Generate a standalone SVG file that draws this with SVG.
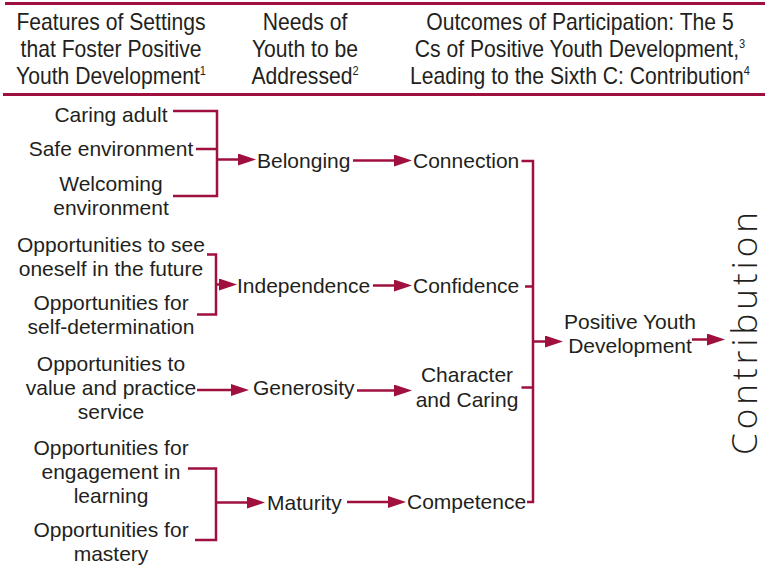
<svg xmlns="http://www.w3.org/2000/svg" width="765" height="571" viewBox="0 0 765 571">
<defs>
<marker id="ah" markerWidth="18" markerHeight="12" refX="8" refY="6" orient="auto" markerUnits="userSpaceOnUse"><path d="M0,0 L18,6 L0,12 z" fill="#A0103E"/></marker>
<style>
.h{font-family:"Liberation Sans",Arial,sans-serif;font-size:23px;fill:#231F20;text-anchor:middle}
.t{font-family:"Liberation Sans",Arial,sans-serif;font-size:21px;fill:#231F20}
.m{text-anchor:middle}
.sup{font-size:12px}
.rule{stroke:#A0103E;stroke-width:3;fill:none}
.c{stroke:#A0103E;stroke-width:2.5;fill:none}
.a{stroke:#A0103E;stroke-width:2.5;fill:none;marker-end:url(#ah)}
.big{font-family:"Open Sans","Liberation Sans",sans-serif;font-weight:300;font-size:35px;fill:#231F20;text-anchor:middle}
</style>
</defs>
<rect width="765" height="571" fill="#fff"/>
<g id="header">
<path class="rule" d="M5,3.5 H765"/>
<path class="rule" d="M3,94.5 H765"/>
<g transform="translate(111,0) scale(0.92,1)">
<text class="h" x="0" y="30">Features of Settings</text>
<text class="h" x="0" y="57">that Foster Positive</text>
<text class="h" x="0" y="84">Youth Development<tspan class="sup" dy="-9">1</tspan></text>
</g>
<g transform="translate(305,0) scale(0.92,1)">
<text class="h" x="0" y="30">Needs of</text>
<text class="h" x="0" y="57">Youth to be</text>
<text class="h" x="0" y="84">Addressed<tspan class="sup" dy="-9">2</tspan></text>
</g>
<g transform="translate(580,0) scale(0.92,1)">
<text class="h" x="0" y="30">Outcomes of Participation: The 5</text>
<text class="h" x="0" y="57">Cs of Positive Youth Development,<tspan class="sup" dy="-9">3</tspan></text>
<text class="h" x="0" y="84">Leading to the Sixth C: Contribution<tspan class="sup" dy="-9">4</tspan></text>
</g>
</g>
<g id="caring-adult"><text class="t m" x="111" y="122">Caring adult</text></g>
<g id="safe-environment"><text class="t m" x="111" y="156">Safe environment</text></g>
<g id="welcoming-environment"><text class="t m" x="111" y="191">Welcoming</text><text class="t m" x="111" y="215">environment</text></g>
<g id="see-future"><text class="t m" x="111" y="252">Opportunities to see</text><text class="t m" x="111" y="276">oneself in the future</text></g>
<g id="self-determination"><text class="t m" x="111" y="310">Opportunities for</text><text class="t m" x="111" y="334">self-determination</text></g>
<g id="service"><text class="t m" x="111" y="371">Opportunities to</text><text class="t m" x="111" y="395">value and practice</text><text class="t m" x="111" y="419">service</text></g>
<g id="engagement"><text class="t m" x="111" y="455">Opportunities for</text><text class="t m" x="111" y="479">engagement in</text><text class="t m" x="111" y="503">learning</text></g>
<g id="mastery"><text class="t m" x="111" y="537">Opportunities for</text><text class="t m" x="111" y="561">mastery</text></g>
<g id="belonging"><text class="t" x="257" y="168">Belonging</text></g>
<g id="independence"><text class="t" x="237" y="293">Independence</text></g>
<g id="generosity"><text class="t" x="253" y="395">Generosity</text></g>
<g id="maturity"><text class="t" x="267" y="510">Maturity</text></g>
<g id="connection"><text class="t" x="413" y="168">Connection</text></g>
<g id="confidence"><text class="t" x="413" y="293">Confidence</text></g>
<g id="character"><text class="t m" x="467" y="382">Character</text><text class="t m" x="467" y="407">and Caring</text></g>
<g id="competence"><text class="t" x="407" y="509">Competence</text></g>
<g id="pyd"><text class="t m" x="630" y="329">Positive Youth</text><text class="t m" x="630" y="353">Development</text></g>
<g id="contribution"><text class="big" transform="translate(757,333.5) rotate(-90)" x="0" y="0" textLength="243" lengthAdjust="spacing">Contribution</text></g>
<g id="connectors">
<path class="c" d="M173,111 H217 V196 H173 M196,149 H217"/>
<path class="a" d="M217,159.5 H246"/>
<path class="c" d="M207,254.5 H216 V314.5 H197"/>
<path class="a" d="M216,284.5 H227"/>
<path class="a" d="M197,390 H239"/>
<path class="c" d="M188,468.5 H216 V540 H195"/>
<path class="a" d="M216,502.5 H255"/>
<path class="a" d="M353,160.5 H402"/>
<path class="a" d="M373,285.5 H402"/>
<path class="a" d="M357,390.5 H402"/>
<path class="a" d="M347,502 H396"/>
<path class="c" d="M521.5,161 H533 V502 H527 M525,286.5 H533 M521.5,387.5 H533"/>
<path class="a" d="M533,341.5 H553"/>
<path class="a" d="M692,339.5 H715"/>
</g>
</svg>
